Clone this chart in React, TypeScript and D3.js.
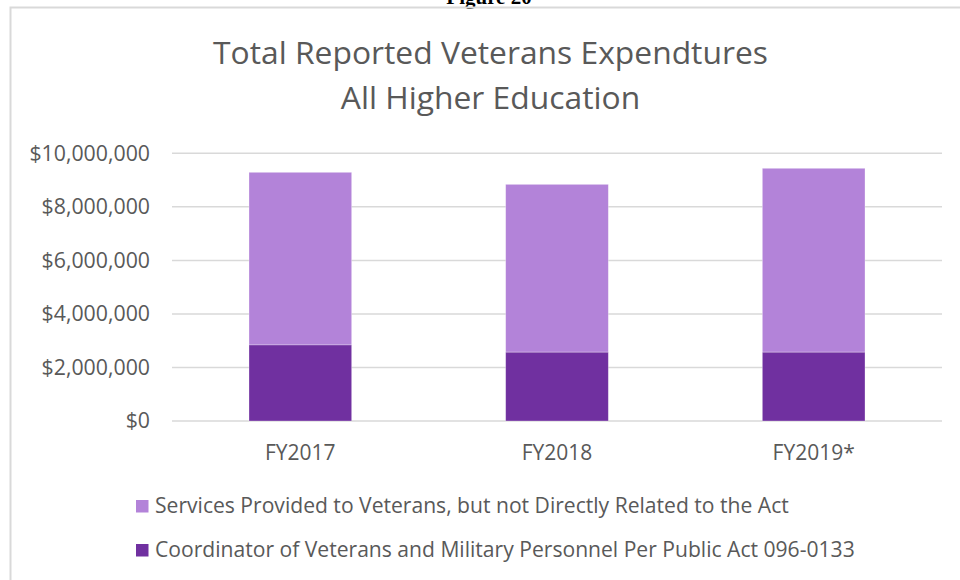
import React from "react";
import * as d3 from "d3";

const categories = ["FY2017", "FY2018", "FY2019*"];
const coordinator = [2840000, 2570000, 2570000];
const services = [6450000, 6270000, 6870000];
const seriesNames = [
  "Services Provided to Veterans, but not Directly Related to the Act",
  "Coordinator of Veterans and Military Personnel Per Public Act 096-0133",
];
const yTicks = [0, 2000000, 4000000, 6000000, 8000000, 10000000];
const titleLines = ["Total Reported Veterans Expendtures", "All Higher Education"];

const W = 960;
const H = 580;
const FONT = "'Open Sans', 'Noto Sans', sans-serif";
const TEXT = "#595959";
const LIGHT = "#b383d9";
const DARK = "#7030a0";

export default function App() {
  const x = d3.scaleBand<string>().domain(categories).range([172, 942]).paddingInner(0.6).paddingOuter(0.3);
  const y = d3.scaleLinear().domain([0, 10000000]).range([421, 153.3]);
  const fmt = (v: number) => "$" + d3.format(",")(v);

  const stacked = categories.map((c, i) => ({
    c,
    dark: [0, coordinator[i]],
    light: [coordinator[i], coordinator[i] + services[i]],
  }));

  return (
    <svg width={W} height={H} style={{ position: "absolute", left: 0, top: 0, background: "#fff" }}>
      <rect x={0} y={0} width={W} height={H} fill="#fff" />
      <text x={489} y={3.5} textAnchor="middle" fontFamily="'Liberation Serif', 'Times New Roman', serif" fontWeight="bold" fontSize={21} fill="#000">
        Figure 20
      </text>
      <rect x={10.5} y={7.5} width={W} height={H} fill="none" stroke="#d9d9d9" strokeWidth={2} />
      {titleLines.map((t, i) => (
        <text key={t} x={490.5} y={64 + i * 45} textAnchor="middle" fontFamily={FONT} fontSize={31.8} fill={TEXT}>
          {t}
        </text>
      ))}
      {yTicks.map((t) => (
        <g key={t}>
          <line x1={172} x2={942} y1={y(t)} y2={y(t)} stroke="#d9d9d9" strokeWidth={1.5} />
          <text x={150} y={y(t)} dy="0.35em" textAnchor="end" fontFamily={FONT} fontSize={21.3} fill={TEXT}>
            {fmt(t)}
          </text>
        </g>
      ))}
      {stacked.map((d) => (
        <g key={d.c}>
          <rect x={x(d.c)} y={y(d.light[1])} width={x.bandwidth()} height={y(d.light[0]) - y(d.light[1])} fill={LIGHT} stroke="#fff" strokeOpacity={0.4} strokeWidth={0.75} />
          <rect x={x(d.c)} y={y(d.dark[1])} width={x.bandwidth()} height={y(d.dark[0]) - y(d.dark[1])} fill={DARK} stroke="#fff" strokeOpacity={0.4} strokeWidth={0.75} />
          <text x={(x(d.c) as number) + x.bandwidth() / 2} y={453} dy="0.35em" textAnchor="middle" fontFamily={FONT} fontSize={21} fill={TEXT}>
            {d.c}
          </text>
        </g>
      ))}
      {seriesNames.map((s, i) => (
        <g key={s}>
          <rect x={136} y={500 + i * 44} width={12.5} height={12.5} fill={i === 0 ? LIGHT : DARK} />
          <text x={155} y={506 + i * 44} dy="0.35em" fontFamily={FONT} fontSize={21.1} fill={TEXT}>
            {s}
          </text>
        </g>
      ))}
    </svg>
  );
}
